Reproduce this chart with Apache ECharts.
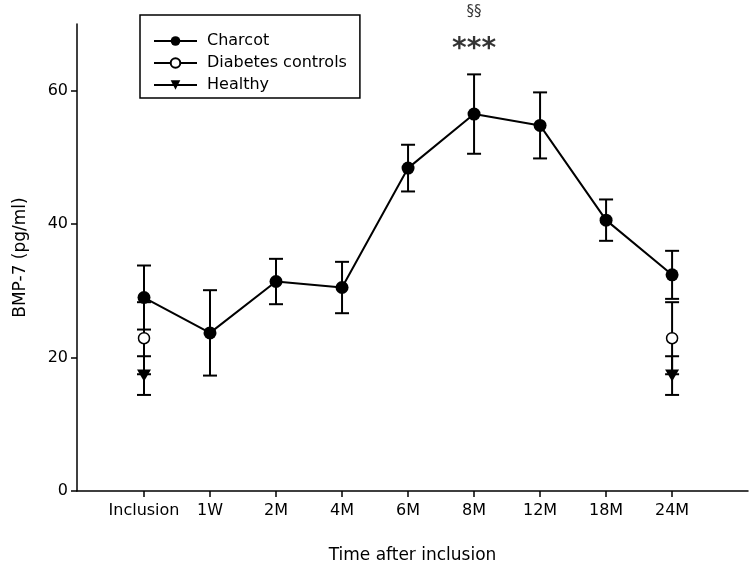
<!DOCTYPE html>
<html lang="en">
<head>
    <meta charset="UTF-8">
    <title>BMP-7</title>
</head>
<body style="margin:0">
<div id="main" style="width:749px;height:571px"></div>
<script src="https://cdn.jsdelivr.net/npm/echarts@6/dist/echarts.min.js"></script>
<script>
    var categories = ['Inclusion', '1W', '2M', '4M', '6M', '8M', '12M', '18M', '24M'];
    var charcot = [29.0, 23.7, 31.4, 30.5, 48.4, 56.5, 54.8, 40.6, 32.4];
    var charcotSd = [4.8, 6.4, 3.4, 3.85, 3.5, 5.95, 4.95, 3.1, 3.6];
    var diabetes = [22.9, null, null, null, null, null, null, null, 22.9];
    var diabetesSd = [5.4, null, null, null, null, null, null, null, 5.4];
    var healthy = [17.3, null, null, null, null, null, null, null, 17.3];
    var healthySd = [2.9, null, null, null, null, null, null, null, 2.9];
    var yTicks = [0, 20, 40, 60];
    // significance marks above 8M: [category index, y, text, font size, weight]
    var marks = [[5, 66.1, '***', 28, 'bold'], [5, 71.8, '§§', 15, 'normal']];

    var myChart = echarts.init(document.getElementById('main'));

    // null -> '-' so the line breaks between the two control points
    function toPoints(vals) {
        return vals.map(function (v, i) {
            return [i, v == null ? '-' : v];
        });
    }
    function toBars(vals, sds) {
        var res = [];
        for (var i = 0; i < vals.length; i++) {
            if (vals[i] != null) res.push([i, vals[i] - sds[i], vals[i] + sds[i]]);
        }
        return res;
    }
    function renderBar(params, api) {
        var lo = api.coord([api.value(0), api.value(1)]);
        var hi = api.coord([api.value(0), api.value(2)]);
        var w = 7;
        var st = {stroke: '#000', lineWidth: 2};
        return {
            type: 'group',
            children: [
                {type: 'line', shape: {x1: hi[0], y1: hi[1], x2: lo[0], y2: lo[1]}, style: st},
                {type: 'line', shape: {x1: hi[0] - w, y1: hi[1], x2: hi[0] + w, y2: hi[1]}, style: st},
                {type: 'line', shape: {x1: lo[0] - w, y1: lo[1], x2: lo[0] + w, y2: lo[1]}, style: st}
            ]
        };
    }
    function barSeries(vals, sds) {
        return {
            type: 'custom',
            renderItem: renderBar,
            encode: {x: 0, y: [1, 2]},
            data: toBars(vals, sds),
            z: 1,
            silent: true
        };
    }

    var idx = categories.map(function (c, i) { return i; });

    myChart.setOption({
        animation: false,
        textStyle: {fontFamily: 'DejaVu Sans', color: '#000'},
        grid: {left: 77, right: 1, top: 24, bottom: 80},
        legend: {
            orient: 'vertical',
            left: 140,
            top: 15,
            data: ['Charcot', 'Diabetes controls', 'Healthy'],
            borderColor: '#000',
            borderWidth: 1.5,
            borderRadius: 0,
            padding: [17, 13, 4, 13],
            itemWidth: 43,
            itemHeight: 12,
            itemGap: 4,
            textStyle: {fontSize: 16, color: '#000', lineHeight: 18, padding: [0, 0, 0, 5]}
        },
        xAxis: {
            type: 'value',
            min: -1.015,
            max: 9.15,
            name: 'Time after inclusion',
            nameLocation: 'middle',
            nameGap: 56,
            nameTextStyle: {fontSize: 17, color: '#000'},
            axisLine: {lineStyle: {color: '#000', width: 1.5}},
            axisTick: {customValues: idx, length: 6, lineStyle: {width: 1.5}},
            axisLabel: {
                customValues: idx,
                fontSize: 16,
                color: '#000',
                margin: 12,
                formatter: function (v) { return categories[Math.round(v)]; }
            },
            splitLine: {show: false}
        },
        yAxis: {
            type: 'value',
            min: 0,
            max: 70,
            name: 'BMP-7 (pg/ml)',
            nameLocation: 'middle',
            nameGap: 48,
            nameTextStyle: {fontSize: 17, color: '#000'},
            axisLine: {show: true, onZero: false, lineStyle: {color: '#000', width: 1.5}},
            axisTick: {show: true, customValues: yTicks, length: 6, lineStyle: {width: 1.5}},
            axisLabel: {customValues: yTicks, fontSize: 16, color: '#000', margin: 9},
            splitLine: {show: false}
        },
        series: [
            barSeries(charcot, charcotSd),
            barSeries(diabetes, diabetesSd),
            barSeries(healthy, healthySd),
            {
                name: 'Charcot',
                type: 'line',
                data: toPoints(charcot),
                symbol: 'circle',
                symbolSize: 13,
                itemStyle: {color: '#000'},
                lineStyle: {color: '#000', width: 2},
                z: 3
            },
            {
                name: 'Diabetes controls',
                type: 'line',
                data: toPoints(diabetes),
                connectNulls: false,
                symbol: 'circle',
                symbolSize: 11,
                itemStyle: {color: '#fff', borderColor: '#000', borderWidth: 1.5},
                lineStyle: {color: '#000', width: 2},
                z: 4
            },
            {
                name: 'Healthy',
                type: 'line',
                data: toPoints(healthy),
                connectNulls: false,
                symbol: 'triangle',
                symbolRotate: 180,
                symbolSize: [14, 12],
                itemStyle: {color: '#000'},
                lineStyle: {color: '#000', width: 2},
                z: 4
            },
            {
                type: 'scatter',
                clip: false,
                silent: true,
                symbolSize: 0,
                data: marks.map(function (m) {
                    return {value: [m[0], m[1]], name: m[2], label: {fontSize: m[3], fontWeight: m[4]}};
                }),
                label: {
                    show: true,
                    position: 'inside',
                    color: '#000',
                    formatter: '{b}'
                }
            }
        ]
    });
</script>
</body>
</html>
